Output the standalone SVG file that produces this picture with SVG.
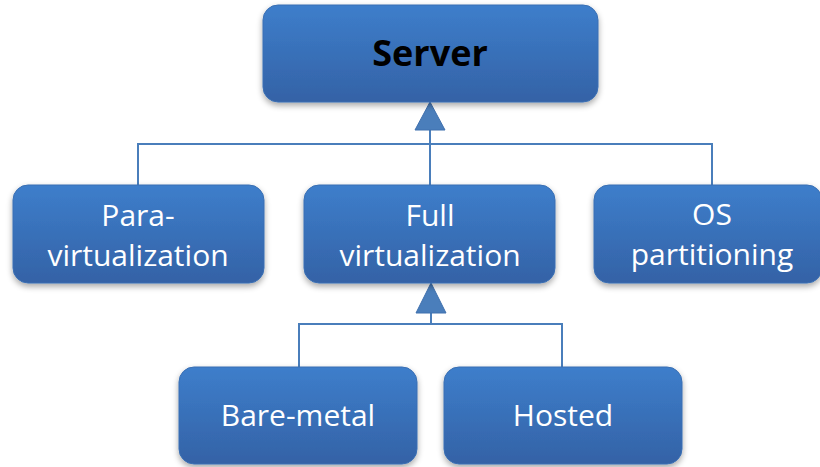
<svg xmlns="http://www.w3.org/2000/svg" width="820" height="467" viewBox="0 0 820 467">
  <defs>
    <linearGradient id="boxFill" x1="0" y1="0" x2="0" y2="1">
      <stop offset="0" stop-color="#3D7ECB"/>
      <stop offset="1" stop-color="#3462A6"/>
    </linearGradient>
    <filter id="shadow" x="-10%" y="-10%" width="120%" height="140%">
      <feGaussianBlur in="SourceAlpha" stdDeviation="3"/>
      <feOffset dx="0" dy="3" result="b"/>
      <feComponentTransfer><feFuncA type="linear" slope="0.35"/></feComponentTransfer>
      <feMerge><feMergeNode/><feMergeNode in="SourceGraphic"/></feMerge>
    </filter>
  </defs>
  <style>
    .box { fill: url(#boxFill); stroke: #3A6FB3; stroke-width: 1; filter: url(#shadow); }
    .lbl { font-family: "Open Sans", "Liberation Sans", sans-serif; font-size: 30px; fill: #FFFFFF; text-anchor: middle; }
    .title { font-family: "Open Sans", "Liberation Sans", sans-serif; font-size: 36px; font-weight: bold; fill: #000000; text-anchor: middle; }
    .conn { fill: none; stroke: #4A7EBB; stroke-width: 2; }
    .head { fill: #4A7EBB; stroke: #3F70AE; stroke-width: 1; }
  </style>

  <rect width="820" height="467" fill="#FFFFFF"/>

  <!-- connectors -->
  <g id="connectors">
    <path class="conn" d="M138,185 V144 H712 V185"/>
    <path class="conn" d="M430,185 V128"/>
    <polygon class="head" points="430,102 445,130 415,130"/>
    <path class="conn" d="M299,367 V324 H562 V367"/>
    <path class="conn" d="M431,324 V311"/>
    <polygon class="head" points="431,283 446,313 416,313"/>
  </g>

  <g id="server">
    <rect class="box" x="263" y="5" width="335" height="97" rx="15"/>
    <text class="title" x="430" y="66">Server</text>
  </g>

  <g id="para-virtualization">
    <rect class="box" x="13" y="185" width="251" height="98" rx="15"/>
    <text class="lbl" x="138" y="226">Para-</text>
    <text class="lbl" x="138" y="266">virtualization</text>
  </g>

  <g id="full-virtualization">
    <rect class="box" x="304" y="185" width="251" height="98" rx="15"/>
    <text class="lbl" x="430" y="226">Full</text>
    <text class="lbl" x="430" y="266">virtualization</text>
  </g>

  <g id="os-partitioning">
    <rect class="box" x="594" y="185" width="228" height="98" rx="15"/>
    <text class="lbl" x="712" y="225">OS</text>
    <text class="lbl" x="712" y="265">partitioning</text>
  </g>

  <g id="bare-metal">
    <rect class="box" x="179" y="367" width="238" height="97" rx="15"/>
    <text class="lbl" x="298" y="426">Bare-metal</text>
  </g>

  <g id="hosted">
    <rect class="box" x="444" y="367" width="238" height="97" rx="15"/>
    <text class="lbl" x="563" y="426">Hosted</text>
  </g>
</svg>
